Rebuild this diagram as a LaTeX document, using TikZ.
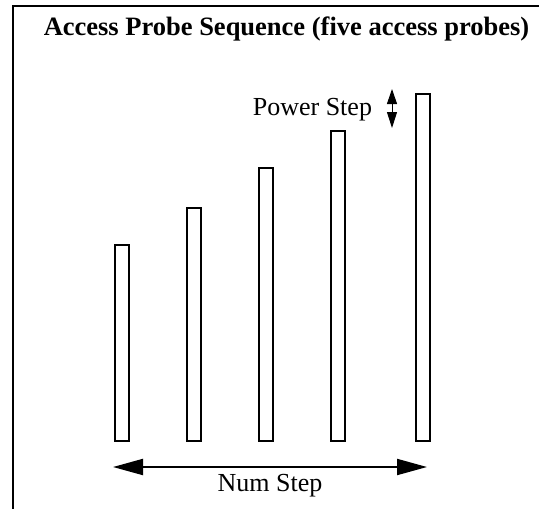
\documentclass[tikz,border=0pt]{standalone}
\usepackage{fontspec}
\setmainfont{Liberation Serif}
\usetikzlibrary{arrows.meta}

\begin{document}
\begin{tikzpicture}[x=1pt,y=-1pt,line width=2pt,
  font=\fontsize{26}{31}\selectfont,
  probe/.style={draw,inner sep=0pt,outer sep=0pt,minimum width=14pt,anchor=south},
  bigtip/.style={{Triangle[length=30pt,width=16pt]}-{Triangle[length=30pt,width=16pt]}},
  smalltip/.style={line width=1pt,{Triangle[length=15pt,width=10pt]}-{Triangle[length=16pt,width=10pt]}}]
  \useasboundingbox (0,0) rectangle (539,509);
  % marco cortado: solo arriba y a la izquierda
  \draw (13,509) -- (13,6) -- (539,6);
  \node[font=\fontsize{26.5}{31}\selectfont\bfseries,anchor=base] (title) at (286.5,35)
    {Access Probe Sequence (five access probes)};
  % las cinco sondas, cada una mas alta
  \foreach \i/\x/\h in {1/122/196,2/193.5/233,3/265.5/273,4/338/310,5/422.5/347}
    \node[probe,minimum height=\h pt] (probe\i) at (\x,441) {};
  % paso de potencia
  \coordinate (pwrTop) at (392,89);
  \coordinate (pwrBot) at (392,128);
  \draw[smalltip] (pwrTop) -- (pwrBot);
  \node[anchor=base east,inner sep=0pt] (pwrlbl) at (373,115) {Power Step};
  % numero de pasos
  \coordinate (numL) at (113,467);
  \coordinate (numR) at (427,467);
  \draw[bigtip] (numL) -- (numR);
  \node[anchor=base,inner sep=0pt] (numlbl) at (270,491) {Num Step};
\end{tikzpicture}
\end{document}
